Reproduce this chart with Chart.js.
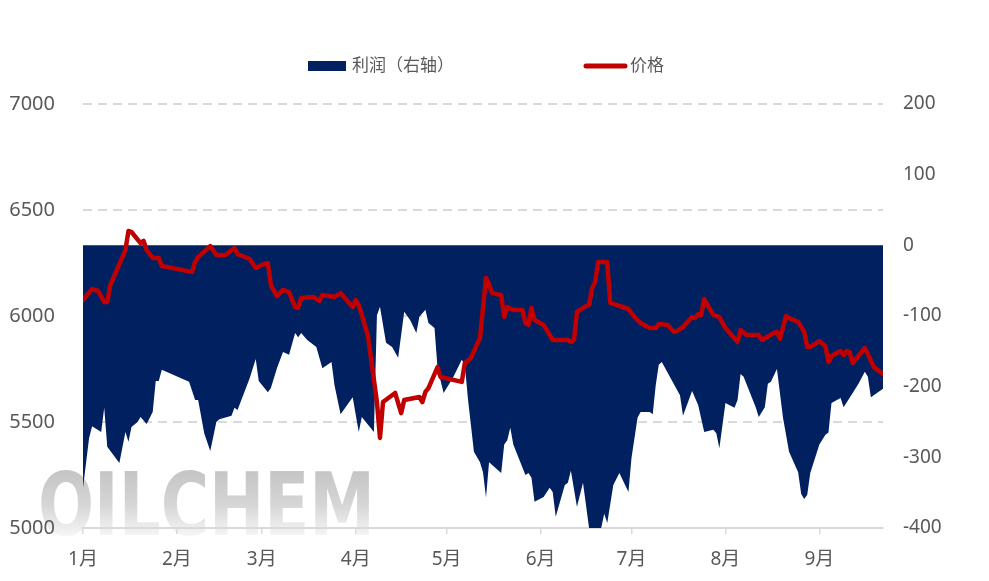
<!DOCTYPE html>
<html>
<head>
<meta charset="utf-8">
<script src="https://cdn.jsdelivr.net/npm/chart.js@4.4.0/dist/chart.umd.min.js"></script>
<style>
html, body { margin: 0; padding: 0; background: #fff; }
</style>
</head>
<body>
<canvas id="myChart" width="989" height="581"></canvas>
<script>
// day index counted from 1 Jan
let monthStarts = [0, 31, 59, 90, 120, 151, 181, 212, 243]
let monthLabels = ['1月', '2月', '3月', '4月', '5月', '6月', '7月', '8月', '9月']
let seriesNames = ['利润（右轴）', '价格']

let priceDays = [
    0, 3, 5, 7, 8, 9, 13, 14, 15, 16,
    19, 20, 21, 23, 25, 26, 36, 37, 38, 42,
    44, 47, 50, 51, 55, 57, 59, 61, 62, 64,
    66, 68, 70, 71, 72, 76, 78, 79, 83, 85,
    89, 90, 91, 94, 97, 98, 99, 103, 105, 106,
    111, 112, 113, 114, 117, 118, 125, 126, 128, 131,
    132, 133, 134, 135, 138, 139, 140, 142, 145, 146,
    147, 148, 149, 152, 155, 156, 160, 161, 162, 163,
    166, 167, 168, 169, 170, 173, 174, 176, 180, 182,
    184, 187, 189, 190, 193, 195, 196, 198, 201, 202,
    203, 204, 205, 208, 210, 212, 216, 217, 219, 223,
    224, 228, 229, 230, 232, 233, 236, 238, 239, 240,
    243, 245, 246, 247, 250, 251, 252, 253, 254, 258,
    259, 261, 264
]
let priceValues = [
    6075, 6127, 6118, 6066, 6066, 6146, 6278, 6311, 6401, 6396,
    6344, 6354, 6311, 6274, 6274, 6236, 6208, 6255, 6278, 6330,
    6288, 6288, 6321, 6292, 6269, 6226, 6241, 6250, 6146, 6094,
    6123, 6113, 6042, 6038, 6085, 6090, 6071, 6099, 6090, 6108,
    6042, 6075, 6052, 5910, 5594, 5425, 5594, 5637, 5542, 5604,
    5618, 5594, 5642, 5660, 5759, 5712, 5689, 5778, 5802, 5896,
    6038, 6179, 6151, 6108, 6099, 5995, 6042, 6028, 6028, 5967,
    5958, 6038, 5981, 5958, 5887, 5887, 5887, 5877, 5887, 6019,
    6047, 6052, 6132, 6160, 6255, 6255, 6061, 6052, 6033, 5995,
    5967, 5943, 5943, 5962, 5958, 5925, 5929, 5948, 5995, 5990,
    6009, 6005, 6080, 6005, 5995, 5943, 5877, 5934, 5910, 5910,
    5887, 5920, 5925, 5892, 6000, 5990, 5972, 5925, 5854, 5854,
    5882, 5858, 5783, 5811, 5835, 5816, 5835, 5830, 5778, 5849,
    5821, 5759, 5726
]

let profitDays = [
    0, 2, 3, 6, 7, 8, 12, 14, 15, 16,
    18, 19, 21, 23, 24, 25, 26, 35, 37, 38,
    40, 42, 44, 45, 49, 50, 51, 55, 57, 58,
    61, 62, 64, 66, 68, 70, 71, 72, 74, 77,
    78, 79, 82, 83, 85, 89, 91, 92, 96, 97,
    98, 100, 102, 104, 106, 108, 110, 111, 113, 114,
    116, 117, 119, 122, 125, 126, 127, 128, 129, 131,
    132, 133, 134, 138, 139, 140, 141, 142, 146, 147,
    148, 149, 152, 154, 155, 156, 159, 160, 161, 163,
    165, 167, 171, 172, 173, 175, 177, 180, 181, 183,
    184, 187, 188, 189, 190, 191, 197, 198, 201, 203,
    205, 208, 209, 210, 212, 215, 216, 217, 218, 222,
    223, 225, 226, 227, 229, 231, 233, 236, 237, 238,
    239, 240, 243, 245, 246, 247, 250, 251, 254, 256,
    258, 259, 260, 262, 264
]
let profitValues = [
    -343, -273, -256, -264, -230, -285, -308, -264, -278, -257,
    -250, -243, -253, -236, -192, -192, -176, -193, -219, -219,
    -266, -291, -250, -246, -241, -230, -233, -188, -161, -192,
    -208, -202, -174, -151, -155, -124, -130, -124, -134, -144,
    -159, -174, -165, -198, -239, -215, -264, -243, -264, -99,
    -87, -138, -144, -159, -94, -106, -124, -101, -91, -110,
    -117, -174, -209, -188, -162, -169, -216, -254, -292, -307,
    -321, -357, -307, -322, -282, -276, -258, -282, -325, -322,
    -329, -363, -356, -343, -349, -384, -339, -336, -319, -370,
    -336, -400, -400, -380, -393, -339, -322, -349, -301, -244,
    -236, -236, -239, -198, -169, -165, -212, -241, -206, -226,
    -264, -261, -266, -287, -223, -230, -219, -182, -186, -229,
    -243, -229, -196, -193, -175, -244, -292, -321, -352, -359,
    -353, -322, -282, -268, -265, -223, -216, -229, -209, -195,
    -179, -186, -215, -209, -203
]

let navy = '#002060'
let red = '#C00000'
let textGrey = '#595959'
let gridGrey = '#d9d9d9'

Chart.defaults.font.family = "'Noto Sans', 'Noto Sans CJK SC', sans-serif"

let watermark = {
    id: 'watermark',
    beforeDraw(chart) {
        let c = chart.ctx
        c.save()
        c.font = 'bold 88px "DejaVu Sans"'
        let w = c.measureText('OILCHEM').width
        c.translate(38, 535)
        c.scale(337 / w, 1)
        // gradient in the translated space: letter top is about -64
        let g = c.createLinearGradient(0, -66, 0, 6)
        g.addColorStop(0, '#c4c4c4')
        g.addColorStop(0.5, '#d6d6d6')
        g.addColorStop(1, '#fbfbfb')
        c.fillStyle = g
        c.fillText('OILCHEM', 0, 0)
        c.restore()
    }
}

let topLegend = {
    id: 'topLegend',
    afterDraw(chart) {
        let c = chart.ctx
        c.save()
        c.fillStyle = navy
        c.fillRect(308, 61, 38, 10)
        c.strokeStyle = red
        c.lineWidth = 5
        c.lineCap = 'round'
        c.beginPath()
        c.moveTo(586, 66)
        c.lineTo(625, 66)
        c.stroke()
        c.fillStyle = textGrey
        c.font = "17px 'Noto Sans', 'Noto Sans CJK SC'"
        c.textBaseline = 'middle'
        c.fillText(chart.data.datasets[1].label, 352, 66)
        c.fillText(chart.data.datasets[0].label, 630, 66)
        c.restore()
    }
}

let ctx = document.querySelector('#myChart')

let graphData = {
    type: 'line',
    data: {
        datasets: [{
            label: seriesNames[1],
            data: priceDays.map((d, i) => ({ x: d, y: priceValues[i] })),
            yAxisID: 'y',
            borderColor: red,
            borderWidth: 4.5,
            borderJoinStyle: 'round',
            borderCapStyle: 'round',
            pointRadius: 0,
            fill: false,
            tension: 0,
            order: 0
        }, {
            label: seriesNames[0],
            data: profitDays.map((d, i) => ({ x: d, y: profitValues[i] })),
            yAxisID: 'y1',
            backgroundColor: navy,
            borderWidth: 0,
            pointRadius: 0,
            fill: 'origin',
            tension: 0,
            order: 1
        }]
    },
    options: {
        responsive: false,
        animation: false,
        layout: { padding: { top: 104, left: 0, right: 0, bottom: 0 } },
        plugins: {
            legend: { display: false },
            tooltip: { enabled: false }
        },
        scales: {
            x: {
                type: 'linear',
                min: 0,
                max: 264,
                afterBuildTicks: s => { s.ticks = monthStarts.map(v => ({ value: v })) },
                afterFit: s => { s.height = 53 },
                ticks: {
                    autoSkip: false,
                    maxRotation: 0,
                    padding: 14,
                    color: textGrey,
                    font: { size: 19 },
                    callback: (v, i) => monthLabels[i]
                },
                grid: { drawOnChartArea: false, drawTicks: true, tickLength: 6, color: gridGrey, lineWidth: 1.5 },
                border: { color: gridGrey, width: 2 }
            },
            y: {
                position: 'left',
                min: 5000,
                max: 7000,
                afterFit: s => { s.width = 83 },
                ticks: { stepSize: 500, padding: 28, color: textGrey, font: { size: 20 }, callback: v => String(v) },
                grid: { color: gridGrey, lineWidth: 2, drawTicks: false },
                border: { display: false, dash: [9, 6] }
            },
            y1: {
                position: 'right',
                min: -400,
                max: 200,
                afterFit: s => { s.width = 106 },
                ticks: { stepSize: 100, padding: 20, color: textGrey, font: { size: 19 }, callback: v => String(v) },
                grid: { display: false, drawTicks: false },
                border: { display: false }
            }
        }
    },
    plugins: [watermark, topLegend]
}

let myChart = new Chart(ctx, graphData)
</script>
</body>
</html>
